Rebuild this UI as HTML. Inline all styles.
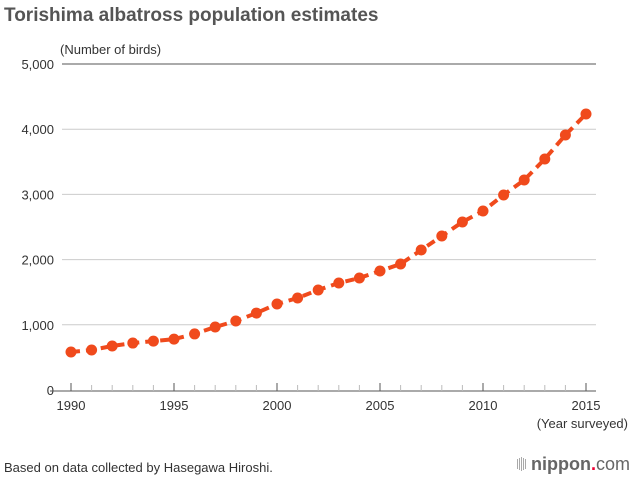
<!DOCTYPE html>
<html><head><meta charset="utf-8"><style>
body{margin:0;background:#fff;}
svg text{font-family:"Liberation Sans",sans-serif;}
</style></head><body>
<svg id="chart" width="640" height="480">
<text x="4" y="21" font-size="19" font-weight="bold" fill="#555">Torishima albatross population estimates</text>
<text x="60" y="54" font-size="13" fill="#333">(Number of birds)</text>
<text x="628" y="428" font-size="13" fill="#333" text-anchor="end">(Year surveyed)</text>
<text x="4" y="472" font-size="13" fill="#333">Based on data collected by Hasegawa Hiroshi.</text>
<g>
<rect x="517" y="459" width="1" height="10" fill="#aaa"/><rect x="519" y="458" width="1" height="12" fill="#aaa"/><rect x="521" y="457" width="1" height="14" fill="#aaa"/><rect x="523" y="458" width="1" height="12" fill="#aaa"/><rect x="525" y="459" width="1" height="10" fill="#aaa"/>
<text x="531" y="470" font-size="18" fill="#666"><tspan font-weight="bold">nippon</tspan><tspan fill="#e03" font-weight="bold">.</tspan><tspan>com</tspan></text>
</g>
<g id="grid"></g><g id="axes"></g><g id="series"></g>
</svg>
<script>
const years=[1990,1991,1992,1993,1994,1995,1996,1997,1998,1999,2000,2001,2002,2003,2004,2005,2006,2007,2008,2009,2010,2011,2012,2013,2014,2015];
const birds=[583,613,675,720,750,780,860,966,1058,1180,1319,1411,1534,1641,1718,1825,1932,2147,2362,2577,2745,2991,3221,3543,3911,4233];
const yTicks=[0,1000,2000,3000,4000,5000];
const yTickLabels=["0","1,000","2,000","3,000","4,000","5,000"];
const xTickLabels=[1990,1995,2000,2005,2010,2015];
const NS="http://www.w3.org/2000/svg";
const X=v=>71+(v-1990)*(586-71)/25;
const Y=v=>390-v*(390-64)/5000;
function mk(tag,attrs,parent){const e=document.createElementNS(NS,tag);for(const k in attrs)e.setAttribute(k,attrs[k]);parent.appendChild(e);return e;}
const grid=document.getElementById('grid'),axes=document.getElementById('axes'),series=document.getElementById('series');
yTicks.forEach((t,i)=>{
 if(t>0){const l=mk('line',{x1:62,x2:596,y1:Y(t),y2:Y(t),stroke:t==5000?'#555':'#ccc','stroke-width':1},grid);
 
 }
 const tx=mk('text',{x:54,y:Y(t)+5,'font-size':13,fill:'#333','text-anchor':'end'},axes);tx.textContent=yTickLabels[i];
 
 
});
const ax=mk('line',{x1:50,x2:596,y1:391,y2:391,stroke:'#555','stroke-width':1},axes);


years.forEach(y=>{const major=(y%5==0);
 const t=mk('line',{x1:X(y),x2:X(y),y1:391,y2:major?383:385,stroke:major?'#555':'#bbb','stroke-width':1},axes);
 
 });
xTickLabels.forEach(y=>{const t=mk('text',{x:X(y),y:410,'font-size':13,fill:'#333','text-anchor':'middle'},axes);t.textContent=y;
 
 });
const pts=years.map((y,i)=>X(y)+','+Y(birds[i])).join(' ');
const pl=mk('polyline',{points:pts,fill:'none',stroke:'#f04a1c','stroke-width':4,'stroke-dasharray':'9,6'},series);


years.forEach((y,i)=>{const c=mk('circle',{cx:X(y),cy:Y(birds[i]),r:5.5,fill:'#f04a1c'},series);
 
 });
</script>
</body></html>
